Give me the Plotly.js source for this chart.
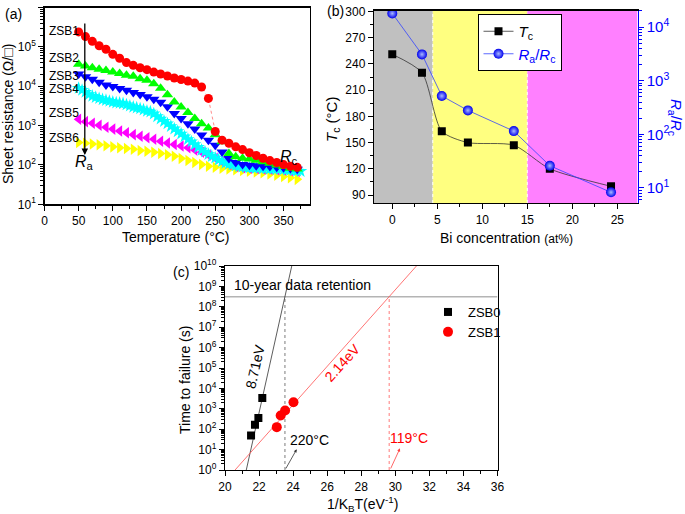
<!DOCTYPE html>
<html>
<head>
<meta charset="utf-8">
<script src="https://cdn.plot.ly/plotly-3.0.1.min.js"></script>
<style>
  html, body { margin: 0; padding: 0; background: #fff; }
  #chart { width: 685px; height: 514px; }
</style>
</head>
<body>
<div id="chart"></div>
<script>
/**
 * Data, panel (a): sheet resistance (ohm/sq) vs temperature (°C)
 */
const temps = [50, 60, 70, 80, 90, 100, 110, 120, 130, 140, 150, 160, 170, 180, 190, 200, 210,
  220, 230, 240, 250, 260, 270, 280, 290, 300, 310, 320, 330, 340, 350, 360, 370];
const tempsFine = [50, 55, 60, 65, 70, 75, 80, 85, 90, 95, 100, 105, 110, 115, 120, 125, 130, 135,
  140, 145, 150, 155, 160, 165, 170, 175, 180, 185, 190, 195, 200, 205, 210, 215, 220, 225, 230,
  235, 240, 245, 250, 255, 260, 265, 270, 275, 280, 285, 290, 295, 300, 305, 310, 315, 320, 325,
  330, 335, 340, 345, 350, 355, 360, 365, 370, 375];

const rZSB1 = [2.40e5, 1.82e5, 1.38e5, 1.07e5, 8.71e4, 6.46e4, 5.13e4, 3.98e4, 3.39e4, 2.95e4,
  2.63e4, 2.29e4, 2.04e4, 1.82e4, 1.62e4, 1.48e4, 1.35e4, 1.20e4, 9550, 4900, 708, 427, 355, 288,
  245, 204, 174, 148, 129, 115, 102, 93, 87];
const rZSB2 = [3.63e4, 3.24e4, 2.95e4, 2.69e4, 2.51e4, 2.29e4, 2.09e4, 1.91e4, 1.78e4, 1.55e4,
  1.41e4, 1.15e4, 8910, 6030, 3980, 2950, 2140, 1510, 1120, 871, 589, 389, 195, 162, 148, 141,
  132, 120, 110, 100, 91, 83, 79];
const rZSB3 = [2.04e4, 1.74e4, 1.51e4, 1.26e4, 1.07e4, 9770, 8710, 7940, 6920, 6170, 5370, 4680,
  3890, 3020, 2040, 1510, 1120, 813, 575, 427, 316, 214, 145, 115, 102, 98, 95, 93, 91, 87, 85,
  81, 78];
const rZSB4 = [8910, 7940, 7080, 6170, 5620, 5250, 4900, 4570, 4370, 4170, 3980, 3800, 3720, 3630,
  3390, 3160, 2950, 2820, 2690, 2510, 2340, 2240, 2000, 1700, 1480, 1290, 1120, 955, 832, 708,
  617, 525, 447, 389, 331, 282, 240, 214, 186, 166, 151, 135, 123, 112, 105, 100, 95, 91, 89, 87,
  85, 85, 83, 83, 81, 81, 79, 79, 78, 78, 76, 74, 74, 72, 71, 69];
const rZSB5 = [1450, 1260, 1150, 1020, 912, 813, 724, 661, 589, 537, 490, 447, 398, 363, 331, 302,
  275, 240, 209, 178, 148, 120, 102, 91, 85, 83, 81, 79, 78, 76, 74, 71, 68];
const rZSB6 = [372, 355, 339, 324, 309, 288, 275, 263, 251, 234, 224, 209, 195, 182, 166, 145, 129,
  115, 102, 93, 87, 83, 79, 76, 72, 69, 66, 63, 59, 55, 51, 47, 43];

/**
 * Data, panel (b): Tc and Ra/Rc vs Bi concentration (at%)
 */
const biConc = [0, 3.3, 5.5, 8.4, 13.5, 17.5, 24.3];
const tcValues = [251, 230, 163, 150, 147, 120, 100];
const raRcValues = [18000, 3100, 520, 280, 115, 26, 8.3];
const phaseBounds = [4.5, 15];

/**
 * Data, panel (c): time to failure vs 1/kBT
 */
const invKT0 = [21.53, 21.76, 21.96, 22.19];
const ttf0 = [49, 165, 354, 3390];
const invKT1 = [23.04, 23.27, 23.53, 24.02];
const ttf1 = [126, 470, 830, 2080];
const fit0X = [21.25, 23.92];
const fit0Y = [1, 1e10];
const fit1X = [20.59, 31.24];
const fit1Y = [1, 1e10];
const tenYears = 3.15e8;
const retentionX = [23.52, 29.64]; // 220 °C and 119 °C

/**
 * Layout helpers (pixel boxes of the original figure)
 */
const W = 685, H = 514;
const xd = (l, r) => [l / W, r / W];
const yd = (t, b) => [1 - b / H, 1 - t / H];
const FONT = "Liberation Sans, Arial, sans-serif";

function logTicks(lo, hi) {
  const vals = [], text = [], minor = [];
  for (let p = lo - 1; p <= hi + 1; p++) {
    if (p >= lo && p <= hi) {
      vals.push(Math.pow(10, p));
      text.push("10<sup>" + p + "</sup>");
    }
    for (let k = 2; k < 10; k++) minor.push(k * Math.pow(10, p));
  }
  return { vals, text, minor };
}

function label(text, px, py, extra) {
  return Object.assign({
    text, x: px / W, y: 1 - py / H, xref: "paper", yref: "paper",
    showarrow: false, xanchor: "center", yanchor: "middle"
  }, extra || {});
}

const axisBase = {
  showline: true, linecolor: "black", linewidth: 1.2, mirror: true,
  ticks: "outside", ticklen: 5, tickwidth: 1, tickcolor: "black",
  showgrid: false, zeroline: false,
  tickfont: { size: 12, color: "black" }
};

const ticksA = logTicks(1, 6);
const ticksB = logTicks(1, 4);
const ticksC = logTicks(0, 10);

/**
 * Traces
 */
const seriesA = [
  { name: "ZSB6", x: temps, y: rZSB6, color: "#ffff00", symbol: "triangle-right", size: 10 },
  { name: "ZSB5", x: temps, y: rZSB5, color: "#ff00ff", symbol: "triangle-left", size: 10 },
  { name: "ZSB4", x: tempsFine, y: rZSB4, color: "#00ffff", symbol: "star", size: 10 },
  { name: "ZSB3", x: temps, y: rZSB3, color: "#0000ff", symbol: "triangle-down", size: 10 },
  { name: "ZSB2", x: temps, y: rZSB2, color: "#00ff00", symbol: "triangle-up", size: 10 },
  { name: "ZSB1", x: temps, y: rZSB1, color: "#ff0000", symbol: "circle", size: 9 }
];

const data = seriesA.map(s => ({
  type: "scatter",
  mode: s.name === "ZSB1" ? "lines+markers" : "markers",
  x: s.x, y: s.y, xaxis: "x", yaxis: "y",
  showlegend: false,
  line: { color: "rgba(255,90,90,0.7)", width: 1, dash: "dot" },
  marker: { color: s.color, symbol: s.symbol, size: s.size, line: { width: 0 } }
}));

data.push({
  type: "scatter", mode: "lines+markers", name: "<i>T</i><sub>c</sub>",
  x: biConc, y: tcValues, xaxis: "x2", yaxis: "y2",
  line: { color: "#333", width: 0.8, shape: "spline", smoothing: 0.7 },
  marker: { symbol: "square", size: 8, color: "black" }
});
data.push({
  type: "scatter", mode: "lines+markers",
  name: "<span style='color:#0000ff'><i>R</i><sub>a</sub>/<i>R</i><sub>c</sub></span>",
  x: biConc, y: raRcValues, xaxis: "x2", yaxis: "y3",
  line: { color: "#3344ff", width: 0.8 },
  marker: { symbol: "circle", size: 10, color: "#0000ee",
    gradient: { type: "radial", color: "#a8b8ff" }, line: { width: 0 } }
});

// panel (c): reference lines first, then fits, then points
data.push({
  type: "scatter", mode: "lines", x: [20, 36], y: [tenYears, tenYears],
  xaxis: "x3", yaxis: "y4", showlegend: false,
  line: { color: "#b4b4b4", width: 1.5 }
});
data.push({
  type: "scatter", mode: "lines", x: [retentionX[0], retentionX[0]], y: [1, tenYears],
  xaxis: "x3", yaxis: "y4", showlegend: false,
  line: { color: "#444", width: 0.7, dash: "dot" }
});
data.push({
  type: "scatter", mode: "lines", x: [retentionX[1], retentionX[1]], y: [1, tenYears],
  xaxis: "x3", yaxis: "y4", showlegend: false,
  line: { color: "#ff4040", width: 0.7, dash: "dot" }
});
data.push({
  type: "scatter", mode: "lines", x: fit0X, y: fit0Y,
  xaxis: "x3", yaxis: "y4", showlegend: false,
  line: { color: "#333", width: 0.8 }
});
data.push({
  type: "scatter", mode: "lines", x: fit1X, y: fit1Y,
  xaxis: "x3", yaxis: "y4", showlegend: false,
  line: { color: "#ff5050", width: 0.8 }
});
data.push({
  type: "scatter", mode: "markers", name: "ZSB0", legend: "legend2",
  x: invKT0, y: ttf0, xaxis: "x3", yaxis: "y4",
  marker: { symbol: "square", size: 8, color: "black" }
});
data.push({
  type: "scatter", mode: "markers", name: "ZSB1", legend: "legend2",
  x: invKT1, y: ttf1, xaxis: "x3", yaxis: "y4",
  marker: { symbol: "circle", size: 10, color: "#ff0000" }
});

/**
 * Layout
 */
const xRangeB = [-2.03, 27.24];

const layout = {
  width: W, height: H,
  margin: { l: 0, r: 0, t: 0, b: 0 },
  paper_bgcolor: "white", plot_bgcolor: "white",
  font: { family: FONT, size: 12, color: "black" },

  // (a)
  xaxis: Object.assign({}, axisBase, {
    domain: xd(44.5, 309.5), anchor: "y", range: [0, 388],
    tick0: 0, dtick: 50, minor: { dtick: 25, ticks: "outside", ticklen: 3, tickcolor: "black" }
  }),
  yaxis: Object.assign({}, axisBase, {
    domain: yd(7.5, 204.3), anchor: "x", type: "log", range: [1, 6],
    tickmode: "array", tickvals: ticksA.vals, ticktext: ticksA.text,
    minor: { tickmode: "array", tickvals: ticksA.minor, ticks: "outside", ticklen: 3, tickcolor: "black" }
  }),

  // (b)
  xaxis2: Object.assign({}, axisBase, {
    domain: xd(374, 637.5), anchor: "y2", range: xRangeB,
    tick0: 0, dtick: 5, minor: { dtick: 2.5, ticks: "outside", ticklen: 3, tickcolor: "black" }
  }),
  yaxis2: Object.assign({}, axisBase, {
    domain: yd(10.5, 203), anchor: "x2", range: [80.9, 301.1], mirror: false,
    tick0: 0, dtick: 30, minor: { dtick: 15, ticks: "outside", ticklen: 3, tickcolor: "black" }
  }),
  yaxis3: Object.assign({}, axisBase, {
    overlaying: "y2", anchor: "x2", side: "right", type: "log", range: [0.72, 4.31],
    mirror: false, linecolor: "#0000ff", tickcolor: "#0000ff",
    tickfont: { size: 15, color: "#0000ff" },
    tickmode: "array", tickvals: ticksB.vals, ticktext: ticksB.text,
    minor: { tickmode: "array", tickvals: ticksB.minor, ticks: "outside", ticklen: 3, tickcolor: "#0000ff" }
  }),

  // (c)
  xaxis3: Object.assign({}, axisBase, {
    domain: xd(225, 497.5), anchor: "y4", range: [20, 36],
    tick0: 20, dtick: 2, minor: { dtick: 1, ticks: "outside", ticklen: 3, tickcolor: "black" }
  }),
  yaxis4: Object.assign({}, axisBase, {
    domain: yd(266, 470), anchor: "x3", type: "log", range: [0, 10],
    tickmode: "array", tickvals: ticksC.vals, ticktext: ticksC.text,
    minor: { tickmode: "array", tickvals: ticksC.minor, ticks: "outside", ticklen: 3, tickcolor: "black" }
  }),

  legend: {
    x: 477.5 / W, y: 1 - 14 / H, xanchor: "left", yanchor: "top",
    bgcolor: "white", bordercolor: "black", borderwidth: 1,
    font: { size: 15, color: "black" }, itemwidth: 30
  },
  legend2: {
    x: 428 / W, y: 1 - 297 / H, xanchor: "left", yanchor: "top",
    bgcolor: "rgba(0,0,0,0)", borderwidth: 0,
    font: { size: 13, color: "black" }, itemwidth: 30
  },

  shapes: [
    { type: "rect", xref: "x2", yref: "y2 domain", x0: xRangeB[0], x1: phaseBounds[0], y0: 0, y1: 1,
      fillcolor: "#c0c0c0", line: { width: 0 }, layer: "below" },
    { type: "rect", xref: "x2", yref: "y2 domain", x0: phaseBounds[0], x1: phaseBounds[1], y0: 0, y1: 1,
      fillcolor: "#ffff80", line: { width: 0 }, layer: "below" },
    { type: "rect", xref: "x2", yref: "y2 domain", x0: phaseBounds[1], x1: xRangeB[1], y0: 0, y1: 1,
      fillcolor: "#ff80ff", line: { width: 0 }, layer: "below" },
    { type: "line", xref: "x2", yref: "y2 domain", x0: phaseBounds[0], x1: phaseBounds[0], y0: 0, y1: 1,
      line: { color: "white", width: 1, dash: "dot" }, layer: "below" },
    { type: "line", xref: "x2", yref: "y2 domain", x0: phaseBounds[1], x1: phaseBounds[1], y0: 0, y1: 1,
      line: { color: "white", width: 1, dash: "dot" }, layer: "below" },
    // legend shadow in (b)
    { type: "rect", xref: "paper", yref: "paper",
      x0: 481.5 / W, x1: 560 / W, y0: 1 - 61 / H, y1: 1 - 18 / H,
      fillcolor: "black", line: { width: 0 }, layer: "above" }
  ],

  annotations: [
    // panel letters
    label("(a)", 13, 14, { font: { size: 14 } }),
    label("(b)", 335, 11, { font: { size: 14 } }),
    label("(c)", 181, 272, { font: { size: 14 } }),

    // (a) texts
    label("Sheet resistance (Ω/□)", 8, 114, { textangle: -90, font: { size: 14 } }),
    label("Temperature (°C)", 176, 237, { font: { size: 14 } }),
    label("ZSB1", 47, 31, { xanchor: "left", font: { size: 12 } }),
    label("ZSB2", 47, 58, { xanchor: "left", font: { size: 12 } }),
    label("ZSB3", 47, 76, { xanchor: "left", font: { size: 12 } }),
    label("ZSB4", 47, 88.5, { xanchor: "left", font: { size: 12 } }),
    label("ZSB5", 47, 113, { xanchor: "left", font: { size: 12 } }),
    label("ZSB6", 47, 138.5, { xanchor: "left", font: { size: 12 } }),
    label("<i>R</i><sub>a</sub>", 84, 162, { font: { size: 16 } }),
    label("<i>R</i><sub>c</sub>", 289, 157, { font: { size: 16 } }),
    {
      text: "", xref: "x", yref: "y", axref: "x", ayref: "y",
      x: 59, y: 2.25, ax: 59, ay: 5.63,
      showarrow: true, arrowhead: 2, arrowsize: 1, arrowwidth: 1.3, arrowcolor: "black"
    },

    // (b) texts
    label("<i>T</i><sub>c</sub> (°C)", 332, 120, { textangle: -90, font: { size: 15 } }),
    label("<i>R</i><sub>a</sub>/<i>R</i><sub>c</sub>", 675, 117,
      { textangle: 90, font: { size: 15, color: "#0000ff" } }),
    label("Bi concentration <span style='font-size:12px'>(at%)</span>", 506, 238, { font: { size: 14 } }),

    // (c) texts
    label("Time to failure (s)", 185, 380, { textangle: -90, font: { size: 14 } }),
    label("1/K<sub>B</sub>T(eV<sup>-1</sup>)", 362, 504, { font: { size: 14 } }),
    label("10-year data retention", 231.5, 285, { xanchor: "left", font: { size: 14 } }),
    label("8.71eV", 255, 367, { textangle: -77, font: { size: 14 } }),
    label("2.14eV", 342, 363, { textangle: -48, font: { size: 14, color: "#ff0000" } }),
    label("220°C", 309, 440, { font: { size: 14 } }),
    label("119°C", 409, 438, { font: { size: 14, color: "#ff0000" } }),
    {
      text: "", xref: "paper", yref: "paper", x: 296.7 / W, y: 1 - 449.3 / H,
      ax: -11.7, ay: 20.7, showarrow: true, arrowhead: 2, arrowsize: 0.8,
      arrowwidth: 0.8, arrowcolor: "#333"
    },
    {
      text: "", xref: "paper", yref: "paper", x: 400 / W, y: 1 - 448.3 / H,
      ax: -10, ay: 21.7, showarrow: true, arrowhead: 2, arrowsize: 0.8,
      arrowwidth: 0.8, arrowcolor: "#ff4040"
    }
  ]
};

Plotly.newPlot(document.getElementById("chart"), data, layout, { displayModeBar: false, staticPlot: true });
</script>
</body>
</html>
